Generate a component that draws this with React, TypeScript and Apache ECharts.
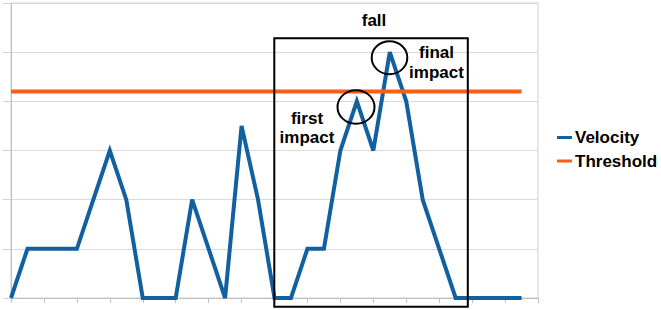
import React, { useEffect, useRef } from "react";
import * as echarts from "echarts";

const categories: string[] = Array.from({ length: 33 }, (_, i) => String(i + 1));
const velocity: (number | null)[] = [
  0, 1, 1, 1, 1, 2, 3, 2, 0, 0, 0, 2, 1, 0, 3.5, 2, 0, 0, 1, 1, 3, 4, 3, 5, 4, 2, 1, 0, 0, 0, 0, 0, null,
];
const threshold: (number | null)[] = [
  4.2, 4.2, 4.2, 4.2, 4.2, 4.2, 4.2, 4.2, 4.2, 4.2, 4.2, 4.2, 4.2, 4.2, 4.2, 4.2,
  4.2, 4.2, 4.2, 4.2, 4.2, 4.2, 4.2, 4.2, 4.2, 4.2, 4.2, 4.2, 4.2, 4.2, 4.2, 4.2, null,
];
const seriesNames = ["Velocity", "Threshold"];
const annotations = { fall: "fall", first: "first\nimpact", final: "final\nimpact" };

const FONT = "'Liberation Sans', Arial, sans-serif";

export default function App() {
  const ref = useRef<HTMLDivElement>(null);
  useEffect(() => {
    if (!ref.current) return;
    const chart = echarts.init(ref.current, undefined, { renderer: "svg" });
    const textStyle = {
      fontFamily: FONT,
      fontSize: 17,
      fontWeight: "bold" as const,
      fill: "#000",
    };
    chart.setOption({
      animation: false,
      backgroundColor: "#fff",
      grid: {
        left: 11,
        right: 123,
        top: 3,
        bottom: 12,
        show: true,
        borderColor: "#d0d0d0",
        borderWidth: 1,
      },
      legend: {
        orient: "vertical",
        left: 557,
        top: 129,
        padding: 0,
        icon: "rect",
        itemWidth: 15,
        itemHeight: 3,
        itemGap: 6.5,
        textStyle: {
          fontFamily: FONT,
          fontSize: 17,
          fontWeight: "bold",
          color: "#000",
          lineHeight: 17,
          padding: [0, 0, 0, -2],
        },
        data: seriesNames,
      },
      xAxis: {
        type: "category",
        data: categories,
        boundaryGap: false,
        axisLine: { lineStyle: { color: "#bfbfbf" } },
        axisTick: { show: true, length: 5, alignWithLabel: true, lineStyle: { color: "#bfbfbf" } },
        axisLabel: { show: false },
        splitLine: { show: false },
      },
      yAxis: {
        type: "value",
        min: 0,
        max: 6,
        interval: 1,
        axisLine: { show: true, lineStyle: { color: "#bfbfbf" } },
        axisTick: { show: true, length: 8, lineStyle: { color: "#d0d0d0" } },
        axisLabel: { show: false },
        splitLine: { lineStyle: { color: "#d9d9d9" } },
      },
      series: [
        {
          name: seriesNames[0],
          type: "line",
          data: velocity,
          showSymbol: false,
          symbol: "none",
          lineStyle: { color: "#11609f", width: 4, join: "miter" },
          itemStyle: { color: "#11609f" },
        },
        {
          name: seriesNames[1],
          type: "line",
          data: threshold,
          showSymbol: false,
          symbol: "none",
          lineStyle: { color: "#fd5e12", width: 4 },
          itemStyle: { color: "#fd5e12" },
        },
      ],
      graphic: [
        {
          type: "rect",
          shape: { x: 274.3, y: 38.3, width: 193.5, height: 268.5 },
          style: { stroke: "#000", lineWidth: 2, fill: "none" },
          z: 100,
        },
        {
          type: "ellipse",
          shape: { cx: 356, cy: 107, rx: 18.5, ry: 16.8 },
          style: { stroke: "#000", lineWidth: 2, fill: "none" },
          z: 100,
        },
        {
          type: "ellipse",
          shape: { cx: 389.5, cy: 57.7, rx: 17.8, ry: 16.5 },
          style: { stroke: "#000", lineWidth: 2, fill: "none" },
          z: 100,
        },
        {
          type: "text",
          x: 374,
          y: 20,
          style: { ...textStyle, text: annotations.fall, textAlign: "center", textVerticalAlign: "middle" },
          z: 100,
        },
        {
          type: "text",
          x: 307,
          y: 128,
          style: {
            ...textStyle,
            text: annotations.first,
            lineHeight: 19.5,
            textAlign: "center",
            textVerticalAlign: "middle",
          },
          z: 100,
        },
        {
          type: "text",
          x: 436.5,
          y: 62.5,
          style: {
            ...textStyle,
            text: annotations.final,
            lineHeight: 20,
            textAlign: "center",
            textVerticalAlign: "middle",
          },
          z: 100,
        },
      ],
    });
    return () => chart.dispose();
  }, []);
  return (
    <div
      ref={ref}
      style={{ position: "fixed", left: 0, top: 0, width: 661, height: 310 }}
    />
  );
}
